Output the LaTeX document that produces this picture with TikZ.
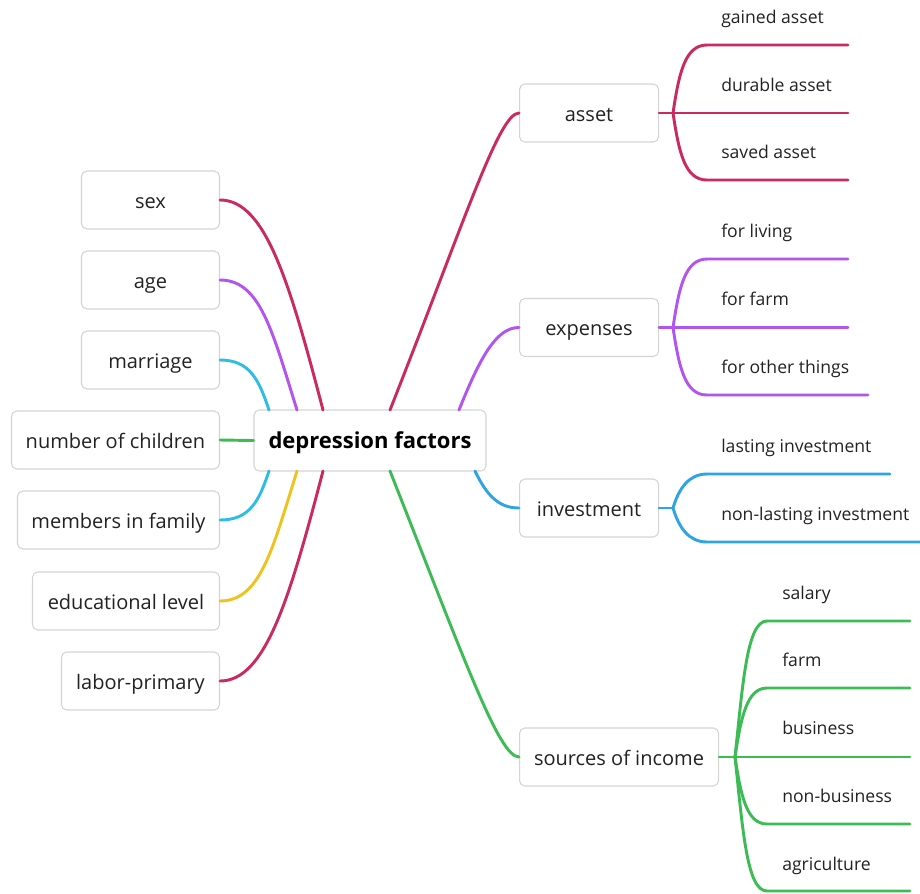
\documentclass[tikz,border=0pt]{standalone}
\usepackage{fontspec}
\setmainfont{Open Sans}
\definecolor{cred}{HTML}{C92B60}
\definecolor{cpurple}{HTML}{B255EE}
\definecolor{ccyan}{HTML}{30BDE2}
\definecolor{cblue}{HTML}{2EA5E2}
\definecolor{cgreen}{HTML}{3DBB55}
\definecolor{cyellow}{HTML}{F0C21E}
\definecolor{cborder}{HTML}{D4D4D4}
\definecolor{ctext}{HTML}{222222}
\begin{document}
\begin{tikzpicture}[x=0.75pt,y=-0.75pt,
  box/.style={draw=cborder,line width=0.8pt,rounded corners=4pt,fill=white,
    text=ctext,font=\fontsize{15}{18}\selectfont,minimum height=58*0.75pt,
    text height=15.5pt,text depth=3pt,
    inner sep=0pt,anchor=east},
  rbox/.style={box,anchor=west},
  centre/.style={draw=cborder,line width=0.8pt,rounded corners=4pt,fill=white,
    text=black,font=\fontsize{16.5}{20}\bfseries\selectfont,minimum height=61*0.75pt,
    text height=14.5pt,text depth=3pt,
    minimum width=232*0.75pt,inner sep=0pt},
  leaf/.style={anchor=west,text=ctext,font=\fontsize{13.2}{16}\selectfont,
    text height=12.6pt,text depth=2.6pt,inner sep=0pt},
  con/.style={line width=2.2pt,line cap=round}]
\useasboundingbox (0,0) rectangle (920,893);

% centre
\node[centre] (c) at (370,440.5) {depression factors};

% left nodes
\node[box,minimum width=138*0.75pt] (sex) at (220,200) {sex};
\node[box,minimum width=138*0.75pt] (age) at (220,280) {age};
\node[box,minimum width=138*0.75pt] (mar) at (220,360) {marriage};
\node[box,minimum width=208*0.75pt] (noc) at (220,440) {number of children};
\node[box,minimum width=202*0.75pt] (mif) at (220,520) {members in family};
\node[box,minimum width=187*0.75pt] (edu) at (220,601) {educational level};
\node[box,minimum width=158*0.75pt] (lab) at (220,681) {labor-primary};

% right nodes
\node[rbox,minimum width=139*0.75pt] (ast) at (519,113) {asset};
\node[rbox,minimum width=139*0.75pt] (exp) at (519,327.5) {expenses};
\node[rbox,minimum width=139*0.75pt] (inv) at (519,508) {investment};
\node[rbox,minimum width=199*0.75pt] (soi) at (519,757) {sources of income};

% anchor points on centre
\coordinate (ct1) at (323,410);
\coordinate (ct2) at (297,410);
\coordinate (ct3) at (269,410);
\coordinate (cb1) at (323,471);
\coordinate (cb2) at (297,471);
\coordinate (cb3) at (269,471);
\coordinate (ctr1) at (390,410);
\coordinate (ctr2) at (459,410);
\coordinate (cbr1) at (475,471);
\coordinate (cbr2) at (390,471);

% left connectors
\draw[con,cred] (sex.east) .. controls +(45,0) and +(-34,-130) .. (ct1);
\draw[con,cpurple] (age.east) .. controls +(40,0) and +(-25,-80) .. (ct2);
\draw[con,ccyan] (mar.east) .. controls +(30,0) and +(-10,-30) .. (ct3);
\draw[con,cgreen] (noc.east) -- (c.west);
\draw[con,ccyan] (mif.east) .. controls +(30,0) and +(-10,30) .. (cb3);
\draw[con,cyellow] (edu.east) .. controls +(40,0) and +(-25,80) .. (cb2);
\draw[con,cred] (lab.east) .. controls +(45,0) and +(-34,130) .. (cb1);

% right connectors
\draw[con,cred] (ctr1) .. controls +(75,-190) and +(-20,0) .. (ast.west);
\draw[con,cpurple] (ctr2) .. controls +(22,-55) and +(-22,0) .. (exp.west);
\draw[con,cblue] (cbr1) .. controls +(12,25) and +(-20,0) .. (inv.west);
\draw[con,cgreen] (cbr2) .. controls +(75,190) and +(-20,0) .. (soi.west);

% ---- asset branch
\coordinate (fa) at (673,113);
\coordinate (a1s) at (707,45);  \coordinate (a1e) at (848,45);
\coordinate (a2e) at (848,113);
\coordinate (a3s) at (707,180); \coordinate (a3e) at (848,180);
\node[leaf] (a1) at (721,17) {gained asset};
\node[leaf] (a2) at (721,85) {durable asset};
\node[leaf] (a3) at (721,152) {saved asset};
\draw[con,cred] (ast.east) -- (a2e);
\draw[con,cred] (fa) .. controls +(6,-40) and +(-22,0) .. (a1s) -- (a1e);
\draw[con,cred] (fa) .. controls +(6,40) and +(-22,0) .. (a3s) -- (a3e);

% ---- expenses branch
\coordinate (fe) at (673,327.5);
\coordinate (e1s) at (707,259);  \coordinate (e1e) at (848,259);
\coordinate (e2e) at (848,327.5);
\coordinate (e3s) at (707,395); \coordinate (e3e) at (868,395);
\node[leaf] (e1) at (721,231) {for living};
\node[leaf] (e2) at (721,299) {for farm};
\node[leaf] (e3) at (721,367) {for other things};
\draw[con,cpurple] (exp.east) -- (e2e);
\draw[con,cpurple] (fe) .. controls +(6,-40) and +(-22,0) .. (e1s) -- (e1e);
\draw[con,cpurple] (fe) .. controls +(6,40) and +(-22,0) .. (e3s) -- (e3e);

% ---- investment branch
\coordinate (fi) at (673,508);
\coordinate (i1s) at (707,474);  \coordinate (i1e) at (890,474);
\coordinate (i2s) at (707,542); \coordinate (i2e) at (920,542);
\node[leaf] (i1) at (721,446) {lasting investment};
\node[leaf] (i2) at (721,514) {non-lasting investment};
\draw[con,cblue] (inv.east) -- (fi);
\draw[con,cblue] (fi) .. controls +(6,-20) and +(-18,0) .. (i1s) -- (i1e);
\draw[con,cblue] (fi) .. controls +(6,20) and +(-18,0) .. (i2s) -- (i2e);

% ---- sources of income branch
\coordinate (fs) at (735,757);
\coordinate (s1s) at (767,621); \coordinate (s1e) at (910,621);
\coordinate (s2s) at (767,688); \coordinate (s2e) at (910,688);
\coordinate (s3e) at (910,757);
\coordinate (s4s) at (767,824); \coordinate (s4e) at (910,824);
\coordinate (s5s) at (767,891); \coordinate (s5e) at (910,891);
\node[leaf] (s1) at (782,593) {salary};
\node[leaf] (s2) at (782,660) {farm};
\node[leaf] (s3) at (782,728) {business};
\node[leaf] (s4) at (782,796) {non-business};
\node[leaf] (s5) at (782,864) {agriculture};
\draw[con,cgreen] (soi.east) -- (s3e);
\draw[con,cgreen] (fs) .. controls +(8,-75) and +(-20,0) .. (s1s) -- (s1e);
\draw[con,cgreen] (fs) .. controls +(6,-40) and +(-20,0) .. (s2s) -- (s2e);
\draw[con,cgreen] (fs) .. controls +(6,40) and +(-20,0) .. (s4s) -- (s4e);
\draw[con,cgreen] (fs) .. controls +(8,75) and +(-20,0) .. (s5s) -- (s5e);
\end{tikzpicture}
\end{document}
